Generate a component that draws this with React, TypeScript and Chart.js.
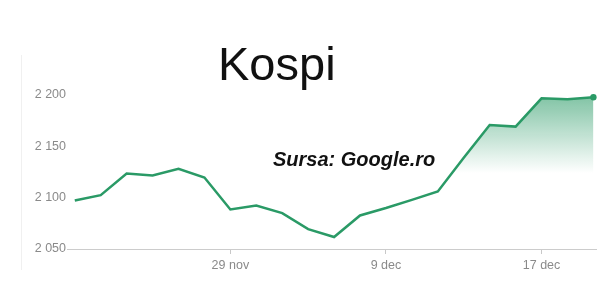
import React, { useEffect, useRef } from "react";
import { Chart, registerables } from "chart.js";

Chart.register(...registerables);

const dates = [
  "21 nov", "22 nov", "25 nov", "26 nov", "27 nov", "28 nov", "29 nov",
  "2 dec", "3 dec", "4 dec", "5 dec", "6 dec", "9 dec", "10 dec",
  "11 dec", "12 dec", "13 dec", "16 dec", "17 dec", "18 dec", "19 dec",
];
const kospi = [
  2097.2, 2102.5, 2123.5, 2121.6, 2128.1, 2119.6, 2088.5, 2092.4, 2085.0,
  2069.4, 2061.7, 2082.7, 2089.9, 2097.9, 2106.0, 2138.8, 2170.8, 2169.2,
  2196.8, 2195.8, 2197.8,
];
const xTickLabels = ["29 nov", "9 dec", "17 dec"];
const yTicks = [2050, 2100, 2150, 2200];

const GREEN = "#2a9a66";
const AXIS_FONT = "'Liberation Sans', Arial, sans-serif";

export default function App() {
  const ref = useRef<HTMLCanvasElement | null>(null);

  useEffect(() => {
    const canvas = ref.current;
    if (!canvas) return;
    const points = kospi.map((v, i) => ({ x: i, y: v }));
    const chart = new Chart(canvas, {
      type: "line",
      data: {
        datasets: [
          {
            data: points,
            borderColor: GREEN,
            borderWidth: 2.5,
            tension: 0,
            fill: "start",
            backgroundColor: (ctx: any) => {
              const area = ctx.chart.chartArea;
              if (!area) return "rgba(0,0,0,0)";
              const g = ctx.chart.ctx.createLinearGradient(0, area.top, 0, area.top + 78);
              g.addColorStop(0, "rgba(42,154,102,0.6)");
              g.addColorStop(1, "rgba(42,154,102,0)");
              return g;
            },
            pointRadius: (ctx: any) => (ctx.dataIndex === kospi.length - 1 ? 3.2 : 0),
            pointBackgroundColor: GREEN,
            pointBorderColor: GREEN,
            pointBorderWidth: 0,
            clip: false as any,
          },
        ],
      },
      options: {
        responsive: false,
        animation: false,
        devicePixelRatio: 1,
        layout: { padding: { top: 95, right: 1, left: 0, bottom: 0 } },
        plugins: { legend: { display: false }, tooltip: { enabled: false }, title: { display: false } },
        scales: {
          x: {
            type: "linear",
            min: -0.3,
            max: kospi.length - 0.9,
            afterBuildTicks: (scale: any) => {
              scale.ticks = xTickLabels.map((l) => ({ value: dates.indexOf(l) }));
            },
            afterFit: (scale: any) => {
              scale.height = 50;
            },
            ticks: {
              callback: (v: any) => dates[Number(v)] ?? "",
              color: "#8a8a8a",
              font: { family: AXIS_FONT, size: 12.5 },
              padding: 4,
              maxRotation: 0,
            },
            grid: {
              display: true,
              drawOnChartArea: false,
              drawTicks: true,
              tickLength: 5,
              color: "#c8c8c8",
            },
            border: { display: true, color: "#cccccc", width: 1 },
          },
          y: {
            type: "linear",
            min: 2050,
            max: 2200,
            afterBuildTicks: (scale: any) => {
              scale.ticks = yTicks.map((v) => ({ value: v }));
            },
            afterFit: (scale: any) => {
              scale.width = 67;
            },
            ticks: {
              callback: (v: any) => {
                const s = String(v);
                return s.slice(0, s.length - 3) + " " + s.slice(s.length - 3);
              },
              color: "#8a8a8a",
              font: { family: AXIS_FONT, size: 12.5 },
              padding: 1,
            },
            grid: { display: false, drawTicks: false, tickLength: 0 },
            border: { display: false },
          },
        },
      },
    });
    return () => chart.destroy();
  }, []);

  return (
    <div style={{ position: "fixed", left: 0, top: 0, width: 600, height: 299, background: "#fff", overflow: "hidden" }}>
      <div style={{ position: "absolute", left: 21, top: 55, width: 0, height: 215, borderLeft: "1px solid #f0f0f0" }} />
      <canvas ref={ref} width={600} height={299} style={{ position: "absolute", left: 0, top: 0, width: 600, height: 299 }} />
      <div
        style={{
          position: "absolute",
          left: 218,
          top: 37,
          fontFamily: "'Liberation Sans', Arial, sans-serif",
          fontSize: 47,
          lineHeight: "54px",
          color: "#111",
          whiteSpace: "nowrap",
        }}
      >
        Kospi
      </div>
      <div
        style={{
          position: "absolute",
          left: 273,
          top: 148,
          fontFamily: "'Liberation Sans', Arial, sans-serif",
          fontSize: 20,
          fontWeight: "bold",
          fontStyle: "italic",
          lineHeight: "23px",
          color: "#111",
          whiteSpace: "nowrap",
        }}
      >
        Sursa: Google.ro
      </div>
    </div>
  );
}
